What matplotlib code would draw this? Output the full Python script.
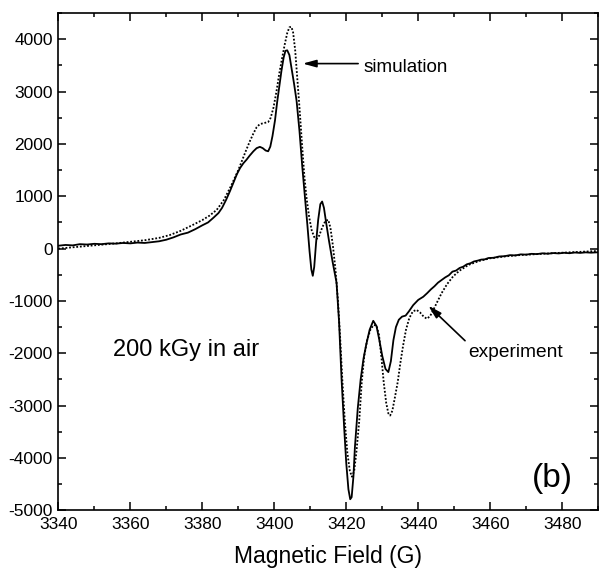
import matplotlib
matplotlib.use("Agg")
import matplotlib.pyplot as plt
from matplotlib.ticker import MultipleLocator

plt.rcParams["font.family"] = ["Liberation Sans", "DejaVu Sans"]
plt.rcParams["axes.unicode_minus"] = False

# Measured first-derivative EPR spectrum (field in G, signal in a.u.)
exp_field = [
    3340, 3342, 3344, 3346, 3348, 3350, 3352, 3354, 3356, 3358, 3360, 3362,
    3364, 3366, 3368, 3370, 3372, 3374, 3376, 3378, 3380, 3381.6, 3383.1,
    3384.5, 3385.5, 3386.6, 3387.7, 3388.7, 3389.6, 3390.5, 3391.4, 3392.3,
    3393.2, 3394.2, 3395.1, 3396, 3396.8, 3397.6, 3398.3, 3398.9, 3399.5,
    3400.2, 3400.8, 3401.4, 3402, 3402.6, 3403.1, 3403.6, 3404.2, 3404.8,
    3405.5, 3406.2, 3407, 3407.8, 3408.5, 3409.2, 3409.8, 3410.3, 3410.7,
    3411.1, 3411.6, 3412.2, 3412.8, 3413.3, 3413.8, 3414.4, 3415.2, 3416.2,
    3417.3, 3418, 3418.7, 3419.4, 3420, 3420.6, 3421.1, 3421.5, 3422, 3422.4,
    3423.2, 3424, 3424.8, 3425.5, 3426.5, 3427.5, 3428.4, 3429.2, 3430,
    3430.9, 3431.7, 3432.4, 3433.1, 3433.8, 3434.6, 3435.5, 3436.5, 3437.4,
    3438.6, 3440, 3441.4, 3442.5, 3443.5, 3444.5, 3445.5, 3446.5, 3447.5,
    3448.5, 3449.5, 3450.5, 3451.5, 3452.5, 3453.5, 3454.5, 3455.5, 3456.5,
    3457.5, 3458.5, 3459.5, 3461, 3462.5, 3464, 3465.5, 3467, 3468.5, 3470,
    3471.5, 3473, 3474.5, 3476, 3477.5, 3479, 3480.5, 3482, 3483.5, 3485,
    3486.5, 3488, 3490,
]
exp_signal = [
    55, 70, 62, 85, 78, 92, 85, 100, 95, 108, 100, 115,
    108, 125, 140, 170, 215, 270, 305, 370, 445, 500, 590,
    680, 780, 930, 1100, 1270, 1420, 1540, 1630, 1700,
    1780, 1860, 1920, 1945, 1920, 1875, 1860, 1950, 2150,
    2450, 2800, 3100, 3400, 3650, 3780, 3790, 3700, 3450,
    3150, 2824, 2250, 1550, 1000, 450, -50, -400, -520,
    -350, 100, 550, 850, 900, 780, 500, 150, -250,
    -650, -1400, -2500, -3400, -4100, -4600, -4790, -4750, -4350, -3800,
    -3050, -2500, -2100, -1850, -1550, -1380, -1480, -1750, -2050,
    -2300, -2360, -2150, -1750, -1500, -1360, -1300, -1280, -1200,
    -1080, -980, -920, -850, -780, -720, -650, -600, -550,
    -510, -440, -420, -370, -345, -300, -280, -245, -230,
    -210, -205, -180, -175, -150, -145, -125, -130, -110, -115,
    -100, -105, -90, -98, -85, -92, -80, -88, -75, -82,
    -72, -78, -70,
]

# Simulated spectrum
sim_field = [
    3340, 3344, 3348, 3352, 3356, 3360, 3364, 3368, 3371, 3374, 3377, 3380,
    3382, 3384, 3386, 3388, 3390, 3392, 3393.2, 3394.2, 3395.1, 3396, 3397.2,
    3398.3, 3399, 3399.8, 3400.6, 3401.4, 3402.2, 3402.9, 3403.6, 3404.2,
    3404.7, 3405.2, 3405.8, 3406.4, 3407, 3407.7, 3408.4, 3409, 3409.7,
    3410.4, 3411.1, 3411.8, 3412.5, 3413.3, 3414.2, 3415, 3415.6, 3416.3,
    3417, 3417.7, 3418.3, 3418.9, 3419.6, 3420.3, 3421, 3421.6, 3422.2,
    3422.8, 3423.6, 3424.3, 3425, 3425.8, 3426.7, 3427.6, 3428.4, 3429.1,
    3429.8, 3430.4, 3431.1, 3431.7, 3432.2, 3432.8, 3433.5, 3434.3, 3435,
    3435.8, 3436.6, 3437.5, 3438.5, 3439.5, 3440.5, 3441.5, 3442.4, 3443.3,
    3444.2, 3445.2, 3446.5, 3448, 3449.7, 3451.5, 3454, 3457, 3460, 3464,
    3468, 3473, 3478, 3484, 3490,
]
sim_signal = [
    0, 25, 50, 75, 100, 130, 160, 205, 260, 340, 440, 545,
    630, 740, 930, 1200, 1500, 1850, 2050, 2200, 2320, 2380, 2400,
    2420, 2500, 2700, 3000, 3350, 3650, 3900, 4120, 4230,
    4240, 4150, 3800, 3250, 2700, 2000, 1350, 950, 600,
    350, 220, 185, 250, 400, 530, 550, 400, 50,
    -400, -1000, -1700, -2500, -3300, -3900, -4250, -4360, -4250,
    -3900, -3300, -2550, -2050, -1750, -1550, -1460, -1470, -1650,
    -2100, -2550, -2950, -3150, -3190, -3100, -2850, -2550, -2200,
    -1850, -1550, -1330, -1200, -1170, -1220, -1300, -1340, -1290,
    -1170, -1030, -850, -680, -530, -420, -310, -235, -185, -150,
    -125, -105, -85, -65, -45,
]

fig = plt.figure(figsize=(6.0, 5.72), dpi=100)
ax = fig.add_axes([0.0972, 0.108, 0.8998, 0.869])

ax.plot(exp_field, exp_signal, color="black", lw=1.3, solid_joinstyle="round")
ax.plot(sim_field, sim_signal, color="black", lw=1.3, linestyle=(0, (1.0, 1.0)))

ax.set_xlim(3340, 3490)
ax.set_ylim(-5000, 4500)
ax.xaxis.set_major_locator(MultipleLocator(20))
ax.xaxis.set_minor_locator(MultipleLocator(10))
ax.yaxis.set_major_locator(MultipleLocator(1000))
ax.yaxis.set_minor_locator(MultipleLocator(500))
ax.tick_params(which="both", direction="in", top=True, right=True,
               width=1.1, labelsize=12.5, colors="black")
ax.tick_params(which="major", length=5.5)
ax.tick_params(which="minor", length=3)
ax.tick_params(axis="x", pad=5)
ax.tick_params(axis="y", pad=4)
for s in ax.spines.values():
    s.set_linewidth(1.2)

ax.set_xlabel("Magnetic Field (G)", fontsize=16.5, labelpad=9)

ax.annotate("", xy=(3407.9, 3536), xytext=(3423.3, 3536),
            arrowprops=dict(arrowstyle="-|>,head_length=0.8,head_width=0.22",
                            color="black", lw=1.2, shrinkA=0, shrinkB=0))
ax.text(3424.7, 3470, "simulation", fontsize=13.6, va="center", ha="left")

ax.annotate("", xy=(3442.8, -1090), xytext=(3453.0, -1760),
            arrowprops=dict(arrowstyle="-|>,head_length=0.8,head_width=0.22",
                            color="black", lw=1.2, shrinkA=0, shrinkB=0))
ax.text(3453.8, -1984, "experiment", fontsize=13.8, va="center", ha="left")

ax.text(3355.2, -1946, "200 kGy in air", fontsize=17, va="center", ha="left")
ax.text(0.916, 0.064, "(b)", fontsize=24, transform=ax.transAxes,
        va="center", ha="center")

fig.savefig("out.png", dpi=100)
